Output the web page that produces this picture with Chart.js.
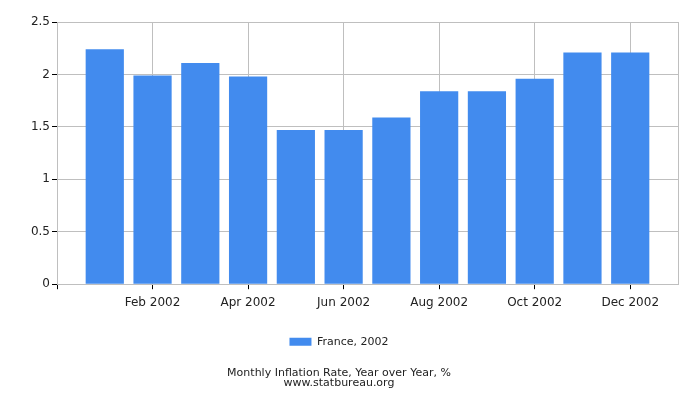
<!DOCTYPE html>
<html>
<head>
<meta charset="utf-8">
<script src="https://cdn.jsdelivr.net/npm/chart.js@4/dist/chart.umd.min.js"></script>
<style>
  html, body { margin: 0; padding: 0; background: #fff; }
  #wrap { width: 700px; height: 400px; }
</style>
</head>
<body>
<div id="wrap"><canvas id="chart"></canvas></div>
<script>
const months = ['Jan 2002', 'Feb 2002', 'Mar 2002', 'Apr 2002', 'May 2002', 'Jun 2002',
  'Jul 2002', 'Aug 2002', 'Sep 2002', 'Oct 2002', 'Nov 2002', 'Dec 2002'];
const inflation = [2.24, 1.99, 2.11, 1.98, 1.47, 1.47, 1.59, 1.84, 1.84, 1.96, 2.21, 2.21];
const seriesLabel = 'France, 2002';
const footer = ['Monthly Inflation Rate, Year over Year, %', 'www.statbureau.org'];

const gridGray = '#bfbfbf';
const font = 'DejaVu Sans';

Chart.defaults.font.family = font;
Chart.defaults.color = '#222';

new Chart(document.getElementById('chart'), {
  type: 'bar',
  data: {
    datasets: [{
      label: seriesLabel,
      data: months.map((m, i) => ({ x: i + 1, y: inflation[i] })),
      backgroundColor: '#428bee',
      borderWidth: 0,
      categoryPercentage: 1,
      barPercentage: 0.8
    }]
  },
  options: {
    responsive: true,
    maintainAspectRatio: false,
    animation: false,
    layout: { padding: { top: 22, right: 22, left: 0, bottom: 12 } },
    plugins: {
      tooltip: { enabled: false },
      legend: {
        position: 'bottom',
        labels: { boxWidth: 22, boxHeight: 8, font: { size: 11 }, padding: 10 }
      },
      title: {
        display: true,
        position: 'bottom',
        text: footer,
        font: { size: 11, weight: 'normal', lineHeight: 0.9 },
        padding: { top: 11, bottom: 0 }
      }
    },
    scales: {
      x: {
        type: 'linear',
        min: 0,
        max: 13,
        offset: false,
        afterBuildTicks: s => { s.ticks = [0, 2, 4, 6, 8, 10, 12, 13].map(v => ({ value: v })); },
        afterFit: s => { s.height = 42; },
        ticks: {
          callback: v => months[v - 1] && v !== 13 ? months[v - 1] : '',
          font: { size: 12 },
          maxRotation: 0,
          autoSkip: false,
          padding: 6
        },
        grid: {
          offset: false,
          color: gridGray,
          tickLength: 5,
          tickColor: c => (c.tick && c.tick.value === 13) ? 'rgba(0,0,0,0)' : '#000'
        },
        border: { color: gridGray }
      },
      y: {
        min: 0,
        max: 2.5,
        ticks: { stepSize: 0.5, font: { size: 12 }, padding: 2, callback: v => String(v) },
        afterFit: s => { s.width = 57; },
        grid: { color: gridGray, tickLength: 5, tickColor: '#000' },
        border: { color: gridGray }
      }
    }
  }
});
</script>
</body>
</html>
